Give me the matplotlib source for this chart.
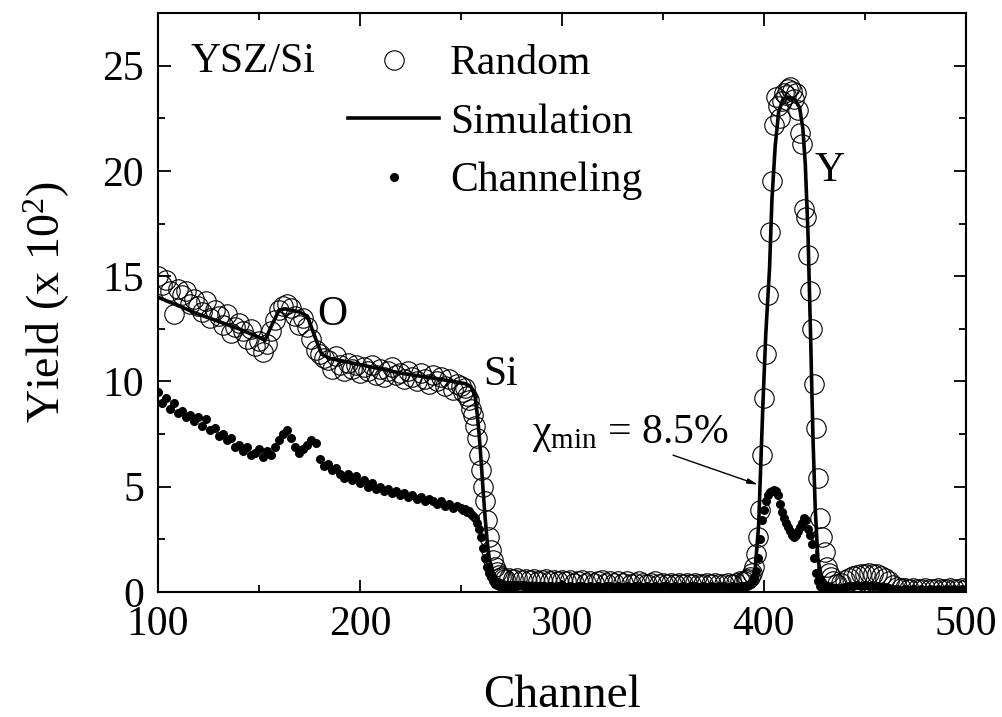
import matplotlib
matplotlib.use("Agg")
import matplotlib.pyplot as plt
from matplotlib.ticker import MultipleLocator

plt.rcParams['font.family'] = ['Liberation Serif', 'DejaVu Serif']
plt.rcParams['mathtext.fontset'] = 'custom'
plt.rcParams['mathtext.rm'] = 'Liberation Serif'
plt.rcParams['mathtext.it'] = 'Liberation Serif:italic'

# channel grid (finer around the Si edge and the Y peak)
channels = (list(range(100, 250, 2)) + list(range(250, 273)) + list(range(274, 391, 2))
            + list(range(391, 434)) + list(range(434, 501, 2)))

# random spectrum (x 10^2)
random_yield = [
    15.0, 14.6, 14.8, 14.3, 13.2, 14.4, 14.1, 14.3, 13.7, 13.9,
    13.6, 13.3, 13.8, 13.0, 13.4, 13.1, 12.7, 13.2, 12.3, 12.6,
    12.8, 12.4, 12.0, 12.5, 11.7, 11.9, 11.4, 11.8, 12.4, 12.9,
    13.4, 13.6, 13.7, 13.5, 13.1, 12.7, 13.0, 12.6, 12.0, 11.5,
    11.3, 11.1, 11.0, 10.6, 11.2, 10.8, 10.5, 10.9, 10.6, 10.8,
    10.4, 10.7, 10.5, 10.8, 10.3, 10.6, 10.2, 10.5, 10.7, 10.3,
    10.4, 10.1, 10.5, 10.2, 10.0, 10.4, 10.1, 9.9, 10.3, 10.0,
    10.2, 9.8, 10.1, 9.6, 9.9,
    # 250-272
    9.8, 9.5, 9.7, 9.3, 9.1, 8.7, 8.4, 7.9, 7.3, 6.5,
    5.8, 5.0, 4.3, 3.4, 2.6, 2.0, 1.5, 1.2, 0.95, 0.8,
    0.7, 0.65, 0.6,
    # 274-390
    0.65, 0.6, 0.65, 0.55, 0.6, 0.55, 0.6, 0.5, 0.55, 0.6,
    0.5, 0.55, 0.5, 0.55, 0.5, 0.55, 0.45, 0.5, 0.55, 0.45,
    0.5, 0.45, 0.5, 0.55, 0.45, 0.5, 0.45, 0.5, 0.45, 0.5,
    0.4, 0.45, 0.5, 0.45, 0.4, 0.45, 0.5, 0.4, 0.45, 0.4,
    0.45, 0.4, 0.45, 0.4, 0.45, 0.4, 0.45, 0.4, 0.4, 0.45,
    0.4, 0.45, 0.4, 0.4, 0.45, 0.4, 0.45, 0.5, 0.5,
    # 391-433
    0.55, 0.6, 0.7, 0.9, 1.2, 1.8, 2.6, 3.9, 6.5, 9.2,
    11.3, 14.1, 17.1, 19.5, 22.2, 23.5, 23.1, 22.5, 23.3, 23.7,
    23.6, 23.9, 24.0, 23.8, 23.4, 23.7, 22.9, 21.8, 21.3, 18.2,
    17.8, 16.0, 14.3, 12.5, 9.9, 7.8, 5.4, 3.5, 2.6, 1.9,
    1.2, 0.9, 0.7,
    # 434-500
    0.5, 0.4, 0.45, 0.55, 0.65, 0.75, 0.8, 0.85, 0.85, 0.9,
    0.85, 0.85, 0.75, 0.65, 0.5, 0.35, 0.25, 0.2, 0.2, 0.15,
    0.2, 0.15, 0.15, 0.2, 0.15, 0.15, 0.2, 0.15, 0.15, 0.2,
    0.15, 0.15, 0.2, 0.15,
]

# channeling spectrum (x 10^2)
channeling_yield = [
    9.5, 9.0, 9.2, 8.7, 9.0, 8.5, 8.6, 8.3, 8.4, 8.1,
    8.3, 7.9, 8.2, 7.7, 7.8, 7.4, 7.5, 7.2, 7.3, 6.9,
    7.0, 6.7, 6.9, 6.5, 6.6, 6.8, 6.4, 6.7, 6.5, 6.9,
    7.2, 7.5, 7.7, 7.3, 6.9, 6.6, 6.8, 7.0, 7.2, 7.1,
    6.3, 6.0, 6.1, 5.8, 5.9, 5.6, 5.4, 5.6, 5.3, 5.5,
    5.2, 5.3, 5.0, 5.2, 4.9, 5.0, 4.8, 4.9, 4.7, 4.8,
    4.6, 4.7, 4.5, 4.6, 4.4, 4.5, 4.3, 4.4, 4.3, 4.2,
    4.3, 4.1, 4.2, 4.0, 4.1,
    # 250-272
    4.0, 3.9, 3.95, 3.8, 3.85, 3.7, 3.6, 3.5, 3.3, 3.0,
    2.6, 2.1, 1.6, 1.2, 0.9, 0.7, 0.5, 0.4, 0.35, 0.3,
    0.3, 0.25, 0.25,
    # 274-390
    0.3, 0.25, 0.3, 0.35, 0.25, 0.3, 0.25, 0.3, 0.3, 0.25,
    0.3, 0.25, 0.3, 0.35, 0.25, 0.3, 0.25, 0.3, 0.3, 0.25,
    0.3, 0.25, 0.3, 0.25, 0.3, 0.3, 0.25, 0.3, 0.25, 0.3,
    0.25, 0.3, 0.3, 0.25, 0.3, 0.25, 0.3, 0.25, 0.3, 0.3,
    0.25, 0.3, 0.25, 0.3, 0.25, 0.3, 0.3, 0.25, 0.3, 0.25,
    0.3, 0.25, 0.3, 0.3, 0.25, 0.3, 0.25, 0.3, 0.3,
    # 391-433
    0.3, 0.35, 0.4, 0.5, 0.7, 1.0, 1.6, 2.5, 3.4, 3.9,
    4.3, 4.6, 4.75, 4.8, 4.85, 4.8, 4.6, 4.2, 3.8, 3.5,
    3.3, 3.1, 2.9, 2.7, 2.6, 2.7, 2.9, 3.1, 3.3, 3.5,
    3.4, 3.0, 2.7, 2.3, 1.6, 0.9, 0.5, 0.3, 0.2, 0.2,
    0.15, 0.15, 0.15,
    # 434-500
    0.15, 0.2, 0.2, 0.25, 0.3, 0.3, 0.35, 0.3, 0.35, 0.3,
    0.3, 0.3, 0.25, 0.25, 0.2, 0.15, 0.15, 0.1, 0.15, 0.1,
    0.15, 0.1, 0.15, 0.1, 0.15, 0.1, 0.15, 0.1, 0.15, 0.1,
    0.15, 0.1, 0.15, 0.1,
]

# RUMP-type simulation
sim_channel = [100, 110, 120, 130, 140, 150, 153, 156, 160, 163, 170, 174, 177, 181,
               185, 200, 220, 240, 252, 255, 257, 258, 259, 260, 261, 262, 263, 264,
               266, 268, 272, 300, 350, 390, 393, 395.4, 397.4, 398.3, 399.5, 400.9,
               402.8, 404, 405.6, 407.3, 409.4, 412, 415.2, 417.7, 419.3, 420.5, 421.8,
               423.1, 424.3, 425.4, 426.7, 428.4, 431, 440, 500]
sim_yield = [14.0, 13.6, 13.2, 12.85, 12.5, 12.1, 11.95, 12.6, 13.4, 13.45, 13.3, 13.1, 12.3, 11.3,
             11.1, 10.8, 10.4, 10.1, 9.9, 9.75, 9.3, 8.5, 7.5, 6.2, 4.8, 3.5, 2.4, 1.6,
             0.9, 0.6, 0.45, 0.35, 0.3, 0.3, 0.4, 0.75, 3.2, 5.65, 8.9, 12.2,
             15.4, 18.7, 21.2, 22.8, 23.4, 23.5, 23.4, 23.0, 22.0, 20.3, 17.1,
             12.2, 7.3, 4.0, 1.6, 0.75, 0.4, 0.2, 0.2]

fig = plt.figure(figsize=(10.03, 7.17), dpi=100)
ax = fig.add_axes([0.1575, 0.1743, 0.8055, 0.8076])

ax.plot(channels, random_yield, 'o', ms=14, mfc='none', mec='black', mew=0.8, label='Random')
ax.plot(sim_channel, sim_yield, '-', color='black', lw=2.6, label='Simulation')
ax.plot(channels, channeling_yield, 'o', ms=6.5, color='black', mew=0, label='Channeling')

ax.set_xlim(100, 500)
ax.set_ylim(0, 27.5)
ax.xaxis.set_major_locator(MultipleLocator(100))
ax.xaxis.set_minor_locator(MultipleLocator(50))
ax.yaxis.set_major_locator(MultipleLocator(5))
ax.yaxis.set_minor_locator(MultipleLocator(2.5))
ax.tick_params(which='both', direction='in', top=True, right=True, width=1.3, labelsize=30)
ax.tick_params(which='major', length=9, pad=10)
ax.tick_params(which='minor', length=5)
for s in ax.spines.values():
    s.set_linewidth(1.5)

ax.set_xlabel('Channel', fontsize=34, labelpad=22)
ax.set_ylabel('Yield (x 10$^2$)', fontsize=33, labelpad=22)

ax.text(116, 24.7, 'YSZ/Si', fontsize=30, va='baseline')
ax.text(179, 12.7, 'O', fontsize=30, va='baseline')
ax.text(261, 9.85, 'Si', fontsize=30, va='baseline')
ax.text(425, 19.5, 'Y', fontsize=30, va='baseline')
ax.text(285, 7.1, 'χ$_{\\rm min}$ = 8.5%', fontsize=30, va='baseline')
ax.annotate('', xy=(397, 5.1), xytext=(355, 6.5),
            arrowprops=dict(arrowstyle='-|>,head_length=0.6,head_width=0.15',
                            color='black', lw=1.0, shrinkA=0, shrinkB=0))

ax.legend(loc='upper left', bbox_to_anchor=(0.235, 0.945), frameon=False, fontsize=30,
          numpoints=1, handlelength=2.2, handletextpad=0.25, labelspacing=0.48,
          borderpad=0, borderaxespad=0)

fig.savefig('out.png', dpi=100)
